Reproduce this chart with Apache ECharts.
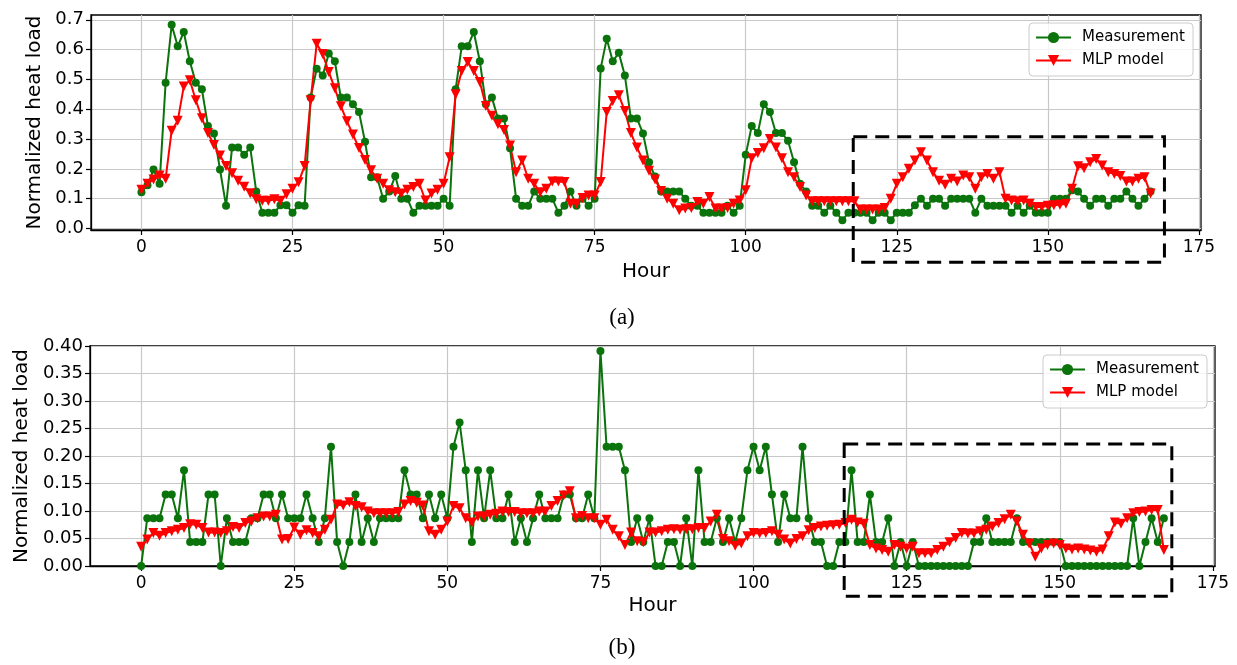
<!DOCTYPE html>
<html>
<head>
<meta charset="utf-8">
<script src="https://cdn.jsdelivr.net/npm/echarts@6/dist/echarts.min.js"></script>
<style>
html,body{margin:0;padding:0;background:#fff}
#main{width:1237px;height:665px}
</style>
</head>
<body>
<div id="main"></div>
<script>
// hours 0..167
var hours = [];
for (var i = 0; i < 168; i++) hours.push(i);

var xTicks = [0, 25, 50, 75, 100, 125, 150, 175];
var yTicksA = [0, 0.1, 0.2, 0.3, 0.4, 0.5, 0.6, 0.7];

// (a) measurement
var measA = [
  0.122,0.145,0.198,0.150,0.489,0.683,0.611,0.659,0.561,0.489,
  0.467,0.344,0.319,0.198,0.076,0.272,0.272,0.247,0.272,0.124,
  0.053,0.053,0.053,0.078,0.078,0.053,0.078,0.076,0.439,0.536,
  0.513,0.587,0.561,0.439,0.439,0.417,0.391,0.291,0.172,0.172,
  0.100,0.124,0.176,0.100,0.100,0.053,0.076,0.076,0.076,0.076,
  0.100,0.076,0.467,0.611,0.611,0.659,0.561,0.417,0.439,0.369,
  0.369,0.269,0.100,0.076,0.076,0.124,0.100,0.100,0.100,0.053,
  0.076,0.124,0.076,0.100,0.076,0.100,0.537,0.636,0.561,0.589,
  0.513,0.369,0.369,0.319,0.222,0.174,0.124,0.124,0.124,0.124,
  0.100,0.076,0.076,0.053,0.053,0.053,0.053,0.076,0.053,0.076,
  0.247,0.344,0.320,0.417,0.391,0.320,0.320,0.294,0.222,0.150,
  0.124,0.076,0.076,0.053,0.076,0.053,0.028,0.053,0.053,0.053,
  0.053,0.028,0.053,0.053,0.028,0.053,0.053,0.053,0.078,0.100,
  0.076,0.100,0.100,0.076,0.100,0.100,0.100,0.100,0.053,0.100,
  0.076,0.076,0.076,0.076,0.053,0.076,0.053,0.076,0.053,0.053,
  0.053,0.100,0.100,0.100,0.128,0.124,0.100,0.076,0.100,0.100,
  0.076,0.100,0.100,0.124,0.100,0.076,0.100,0.124
];
// (a) MLP model
var mlpA = [
  0.130,0.150,0.164,0.178,0.167,0.328,0.361,0.476,0.497,0.430,
  0.370,0.320,0.280,0.245,0.210,0.185,0.160,0.140,0.118,0.098,
  0.093,0.093,0.098,0.093,0.115,0.133,0.155,0.210,0.430,0.620,
  0.585,0.525,0.470,0.410,0.360,0.315,0.270,0.230,0.195,0.167,
  0.150,0.128,0.122,0.117,0.130,0.139,0.150,0.094,0.117,0.130,
  0.150,0.239,0.450,0.528,0.558,0.528,0.491,0.411,0.378,0.350,
  0.330,0.278,0.189,0.228,0.167,0.150,0.122,0.133,0.158,0.158,
  0.156,0.083,0.083,0.102,0.111,0.111,0.156,0.391,0.428,0.447,
  0.394,0.320,0.272,0.228,0.194,0.164,0.126,0.100,0.083,0.061,
  0.067,0.069,0.089,0.083,0.106,0.067,0.067,0.069,0.083,0.094,
  0.128,0.236,0.253,0.269,0.300,0.272,0.236,0.189,0.172,0.139,
  0.111,0.091,0.091,0.091,0.091,0.091,0.091,0.091,0.091,0.064,
  0.064,0.064,0.064,0.069,0.100,0.150,0.172,0.200,0.228,0.256,
  0.228,0.189,0.160,0.147,0.167,0.158,0.178,0.172,0.133,0.172,
  0.183,0.167,0.189,0.100,0.094,0.091,0.094,0.083,0.072,0.072,
  0.076,0.078,0.080,0.083,0.133,0.209,0.202,0.222,0.233,0.211,
  0.189,0.183,0.176,0.158,0.158,0.167,0.172,0.117
];
// (b) measurement
var measB = [
  0,0.087,0.087,0.087,0.13,0.13,0.087,0.174,0.0435,0.0435,
  0.0435,0.13,0.13,0,0.087,0.0435,0.0435,0.0435,0.087,0.087,
  0.13,0.13,0.087,0.13,0.087,0.087,0.087,0.13,0.087,0.0435,
  0.087,0.217,0.0435,0,0.0435,0.13,0.0435,0.087,0.0435,0.087,
  0.087,0.087,0.087,0.174,0.13,0.13,0.087,0.13,0.087,0.13,
  0.087,0.217,0.261,0.174,0.0435,0.174,0.087,0.174,0.087,0.087,
  0.13,0.0435,0.087,0.0435,0.087,0.13,0.087,0.087,0.087,0.13,
  0.13,0.087,0.087,0.13,0.087,0.391,0.217,0.217,0.217,0.174,
  0.0435,0.087,0.0435,0.087,0,0,0.0435,0.0435,0,0.087,
  0,0.174,0.0435,0.0435,0.087,0.0435,0.087,0.0435,0.087,0.174,
  0.217,0.174,0.217,0.13,0.0435,0.13,0.087,0.087,0.217,0.087,
  0.0435,0.0435,0,0,0.0435,0.0435,0.174,0.0435,0.0435,0.13,
  0.0435,0.0435,0.087,0,0.0435,0,0.0435,0,0,0,
  0,0,0,0,0,0,0.0435,0.0435,0.087,0.0435,
  0.0435,0.0435,0.0435,0.087,0.0435,0.0435,0.0435,0.0435,0.0435,0.0435,
  0.0435,0,0,0,0,0,0,0,0,0,
  0,0,0.087,0,0.0435,0.087,0.0435,0.087
];
// (b) MLP model
var mlpB = [
  0.035,0.048,0.060,0.055,0.060,0.063,0.066,0.069,0.076,0.075,
  0.069,0.061,0.061,0.060,0.063,0.071,0.069,0.078,0.081,0.087,
  0.090,0.090,0.093,0.048,0.049,0.070,0.057,0.065,0.060,0.054,
  0.066,0.084,0.112,0.110,0.116,0.109,0.107,0.099,0.096,0.096,
  0.096,0.096,0.098,0.112,0.118,0.115,0.110,0.063,0.057,0.066,
  0.081,0.109,0.105,0.087,0.079,0.090,0.090,0.093,0.095,0.099,
  0.098,0.098,0.096,0.096,0.096,0.099,0.099,0.109,0.118,0.128,
  0.136,0.087,0.091,0.087,0.087,0.075,0.084,0.066,0.054,0.038,
  0.061,0.045,0.043,0.061,0.061,0.063,0.066,0.067,0.066,0.067,
  0.067,0.069,0.069,0.081,0.093,0.049,0.045,0.037,0.041,0.054,
  0.060,0.059,0.060,0.063,0.057,0.048,0.041,0.049,0.054,0.065,
  0.069,0.072,0.073,0.074,0.075,0.078,0.084,0.079,0.077,0.038,
  0.032,0.029,0.026,0.038,0.035,0.032,0.035,0.023,0.023,0.023,
  0.029,0.035,0.043,0.051,0.060,0.059,0.059,0.063,0.066,0.072,
  0.078,0.085,0.093,0.081,0.057,0.041,0.017,0.032,0.038,0.041,
  0.038,0.032,0.030,0.032,0.030,0.028,0.026,0.030,0.054,0.079,
  0.077,0.087,0.096,0.098,0.099,0.102,0.102,0.029
];

var green = '#0b730b';
var red = '#ff0000';
var font = 'DejaVu Sans';

function pairs(vals) {
  return hours.map(function (h, k) { return [h, vals[k]]; });
}

function xAxisFor(idx) {
  return {
    type: 'value', gridIndex: idx, min: -8.35, max: 175.35,
    name: 'Hour', nameLocation: 'middle', nameGap: idx === 0 ? 32 : 30,
    nameTextStyle: { fontSize: 20, color: '#000', fontFamily: font },
    axisLine: { show: true, onZero: false, lineStyle: { color: '#000', width: 1.3 } },
    axisTick: { show: true, customValues: xTicks, length: 5, lineStyle: { color: '#000', width: 1.2 } },
    axisLabel: { customValues: xTicks, fontSize: 17, color: '#000', fontFamily: font, margin: 9 },
    splitLine: { show: true, lineStyle: { color: '#c8c8c8', width: 1.2 } }
  };
}

function lineSeries(name, idx, vals) {
  var isMeas = name === 'Measurement';
  var c = isMeas ? green : red;
  return {
    name: name, type: 'line', xAxisIndex: idx, yAxisIndex: idx,
    data: pairs(vals),
    symbol: isMeas ? 'circle' : 'triangle',
    symbolRotate: isMeas ? 0 : 180,
    symbolSize: isMeas ? 8 : 10,
    showAllSymbol: true,
    itemStyle: { color: c, borderColor: c, borderWidth: 0 },
    lineStyle: { color: c, width: 2 },
    emphasis: { disabled: true },
    animation: false
  };
}

function legendAt(right, top) {
  return {
    orient: 'vertical', right: right, top: top,
    data: ['Measurement', 'MLP model'],
    itemWidth: 35, itemHeight: 14, itemGap: 8,
    padding: [7, 8, 8, 6],
    backgroundColor: 'rgba(255,255,255,0.8)',
    borderColor: '#cccccc', borderWidth: 1, borderRadius: 4,
    selectedMode: false,
    textStyle: { fontSize: 15, color: '#000', fontFamily: font, padding: [0, 0, 0, 6] }
  };
}

var option = {
  animation: false,
  backgroundColor: '#fff',
  grid: [
    { left: 91, right: 36, top: 15, height: 215, show: true, borderColor: '#000', borderWidth: 1.3, outerBoundsMode: 'none' },
    { left: 90, right: 22, top: 346, height: 220, show: true, borderColor: '#000', borderWidth: 1.3, outerBoundsMode: 'none' }
  ],
  xAxis: [xAxisFor(0), xAxisFor(1)],
  yAxis: [
    {
      type: 'value', gridIndex: 0, min: -0.005, max: 0.716,
      name: 'Normalized heat load', nameLocation: 'middle', nameRotate: 90, nameGap: 43,
      nameTextStyle: { fontSize: 20, color: '#000', fontFamily: font },
      axisLine: { show: true, onZero: false, lineStyle: { color: '#000', width: 1.3 } },
      axisTick: { show: true, customValues: yTicksA, length: 5, lineStyle: { color: '#000', width: 1.2 } },
      axisLabel: { customValues: yTicksA, fontSize: 18, color: '#000', fontFamily: font, margin: 7,
        formatter: function (v) { return v.toFixed(1); } },
      splitLine: { show: true, lineStyle: { color: '#c8c8c8', width: 1.2 } }
    },
    {
      type: 'value', gridIndex: 1, min: 0, max: 0.4, interval: 0.05,
      name: 'Normalized heat load', nameLocation: 'middle', nameRotate: 90, nameGap: 32,
      nameTextStyle: { fontSize: 20, color: '#000', fontFamily: font },
      axisLine: { show: true, onZero: false, lineStyle: { color: '#000', width: 1.3 } },
      axisTick: { show: true, length: 5, lineStyle: { color: '#000', width: 1.2 } },
      axisLabel: { fontSize: 18, color: '#000', fontFamily: font, margin: 7,
        formatter: function (v) { return v.toFixed(2); } },
      splitLine: { show: true, lineStyle: { color: '#c8c8c8', width: 1.2 } }
    }
  ],
  legend: [legendAt(44, 23), legendAt(30, 355)],
  series: [
    lineSeries('Measurement', 0, measA),
    lineSeries('MLP model', 0, mlpA),
    lineSeries('Measurement', 1, measB),
    lineSeries('MLP model', 1, mlpB)
  ]
};

var chart = echarts.init(document.getElementById('main'), null, { renderer: 'canvas' });
chart.setOption(option);

// dashed zoom boxes, placed in data coordinates of each panel
function dashedBox(gridIndex, x0, y0, x1, y1) {
  var a = chart.convertToPixel({ gridIndex: gridIndex }, [x0, y0]);
  var b = chart.convertToPixel({ gridIndex: gridIndex }, [x1, y1]);
  return {
    type: 'rect', z: 100, silent: true,
    shape: { x: a[0], y: a[1], width: b[0] - a[0], height: b[1] - a[1] },
    style: { fill: 'none', stroke: '#000', lineWidth: 3, lineDash: [14, 8] }
  };
}
function caption(txt, x, y) {
  return {
    type: 'text', x: x, y: y, z: 100, silent: true,
    style: { text: txt, fontSize: 23, fontFamily: 'Liberation Serif', fill: '#000', align: 'center', verticalAlign: 'middle' }
  };
}
chart.setOption({
  graphic: [
    dashedBox(0, 117.8, 0.308, 169.3, -0.113),
    dashedBox(1, 114.8, 0.222, 168.3, -0.055),
    caption('(a)', 622, 318),
    caption('(b)', 622, 648)
  ]
});
</script>
</body>
</html>
